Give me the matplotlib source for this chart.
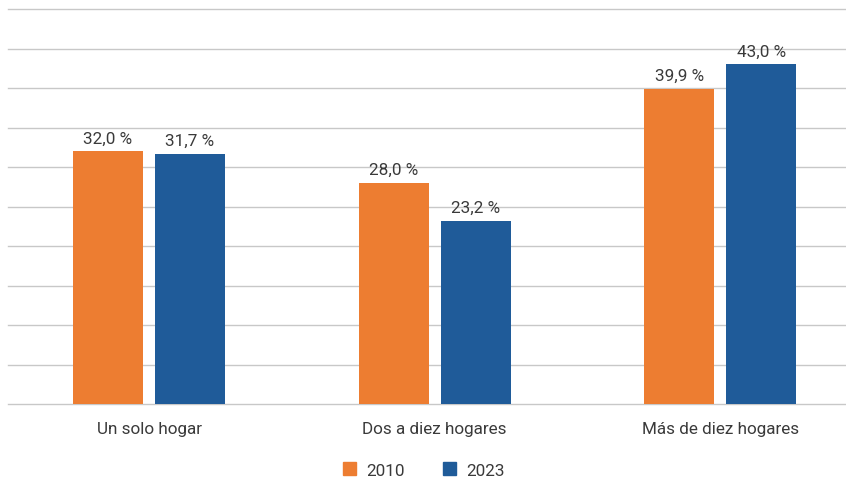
import matplotlib
matplotlib.use("Agg")
import matplotlib.pyplot as plt
import numpy as np
from matplotlib.patches import Patch

plt.rcParams['font.family'] = ['Roboto', 'DejaVu Sans']

categories = ["Un solo hogar", "Dos a diez hogares", "Más de diez hogares"]
series_names = ["2010", "2023"]
values_2010 = [32.0, 28.0, 39.9]
values_2023 = [31.7, 23.2, 43.0]
colors = ["#ED7D31", "#1F5B99"]
txt = "#3a3a3a"

fig = plt.figure(figsize=(8.46, 4.81), dpi=100)
ax = fig.add_axes([8/846, 76/481, 838/846, 395/481])

x = np.arange(len(categories))
w = 0.245
off = 0.1436
for vals, o, c in [(values_2010, -off, colors[0]), (values_2023, off, colors[1])]:
    bars = ax.bar(x + o, vals, width=w, color=c, zorder=3)
    for b, v in zip(bars, vals):
        ax.annotate(f"{v:.1f} %".replace(".", ","), (b.get_x() + b.get_width()/2, v),
                    xytext=(0, 4), textcoords="offset points", ha="center", va="bottom",
                    fontsize=12.3, color=txt)

ax.set_ylim(0, 50)
ax.set_xlim(-0.494, 2.441)
ax.set_yticks(np.arange(0, 51, 5))
ax.yaxis.grid(True, color="#c8c8c8", linewidth=1)
for gl in ax.get_ygridlines():
    gl.set_clip_on(False)
ax.set_axisbelow(True)
ax.tick_params(axis="y", left=False, labelleft=False)
ax.tick_params(axis="x", length=0, pad=12, labelsize=12.3, labelcolor=txt)
ax.set_xticks(x)
ax.set_xticklabels(categories)
for s in ax.spines.values():
    s.set_visible(False)

handles = [Patch(color=colors[0], label=series_names[0]), Patch(color=colors[1], label=series_names[1])]
leg = fig.legend(handles=handles, loc="center", bbox_to_anchor=(424/846, 1 - 471/481), ncol=2,
                 frameon=False, fontsize=12.3, handlelength=0.8, handleheight=0.8,
                 columnspacing=2.2, handletextpad=0.6)
for t in leg.get_texts():
    t.set_color(txt)

fig.savefig("out.png", dpi=100)
